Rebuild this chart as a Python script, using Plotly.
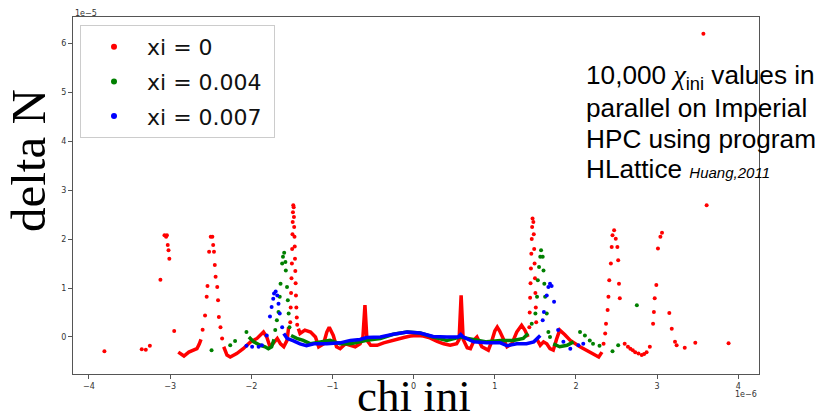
import plotly.graph_objects as go

# ---------------- data (chi_ini in units of 1e-6, delta N in units of 1e-5) ----------------
# xi = 0 (red): dense parts of the curve
red_line_x = [-2.90, -2.83, -2.77, -2.71, -2.67, -2.64, -2.62, None,
              -2.34, -2.30, -2.26, -2.18, -2.10, -2.01, -1.93, -1.85, -1.81, -1.77, -1.73, -1.68, -1.64, -1.60, -1.56, -1.54, None,
              -1.42, -1.40, -1.34, -1.27, -1.21, -1.17, -1.11, -1.07, -1.04, -0.99, -0.95, -0.905, -0.84, -0.78, -0.72, -0.66,
              -0.625, -0.60, -0.575, -0.53, -0.45, -0.37, -0.29, -0.21, -0.12, -0.04, 0.04, 0.12, 0.20, 0.29, 0.37, 0.45, 0.53,
              0.56, 0.585, 0.61, 0.66, 0.70, 0.75, 0.78, 0.81, 0.84, 0.92, 0.96, 1.00, 1.03, 1.06, 1.09, 1.15, 1.21, 1.27,
              1.33, 1.37, 1.41, None,
              1.52, 1.56, 1.60, 1.64, 1.68, 1.72, 1.76, 1.80, 1.86, 1.93, 2.05, 2.17, 2.28, 2.32]
red_line_y = [-0.31, -0.39, -0.31, -0.27, -0.24, -0.14, -0.05, None,
              -0.20, -0.37, -0.41, -0.34, -0.24, -0.10, -0.03, 0.10, 0.00, -0.20, -0.13, -0.03, -0.14, -0.20, -0.07, 0.20, None,
              0.17, 0.07, 0.14, 0.10, 0.00, -0.20, -0.14, 0.10, 0.20, 0.03, -0.20, -0.24, -0.14, -0.17, -0.20, -0.14,
              0.00, 0.65, -0.07, -0.17, -0.17, -0.12, -0.08, -0.04, -0.01, 0.02, 0.03, 0.02, -0.02, -0.09, -0.14, -0.17, -0.14,
              -0.05, 0.85, -0.05, -0.22, -0.24, -0.05, 0.00, -0.10, -0.20, -0.27, -0.10, 0.12, 0.20, 0.12, 0.00, -0.20, -0.14, 0.10,
              0.24, 0.14, 0.00, None,
              -0.05, -0.17, -0.10, -0.14, -0.24, -0.27, -0.05, 0.14, 0.05, -0.07, -0.20, -0.31, -0.41, -0.31]
# xi = 0 (red): isolated points
red_pts_x = [-3.81, -3.35, -3.30, -3.25, -3.12, -3.07, -3.05, -3.04, -3.03, -3.02, -3.01, -2.95,
             -2.60, -2.57, -2.55, -2.54, -2.52, -2.50, -2.48, -2.47, -2.46, -2.45, -2.44, -2.42, -2.41, -2.40, -2.38, -2.36,
             -1.52, -1.515, -1.51, -1.505, -1.50, -1.497, -1.493, -1.49, -1.487, -1.483, -1.478, -1.475, -1.472, -1.468,
             -1.465, -1.462, -1.458, -1.454, -1.45, -1.445, -1.44, -1.435,
             1.425, 1.43, 1.435, 1.44, 1.445, 1.45, 1.455, 1.46, 1.465, 1.475, 1.48, 1.485, 1.49, 1.495, 1.50, 1.505, 1.51,
             2.34, 2.36, 2.37, 2.39, 2.40, 2.41, 2.43, 2.44, 2.45, 2.47, 2.49, 2.51, 2.52, 2.53, 2.54,
             2.60, 2.64, 2.67, 2.70, 2.73, 2.77, 2.81, 2.84, 2.87, 2.91,
             2.95, 2.96, 2.97, 2.99, 3.01, 3.04, 3.06, 3.15, 3.18, 3.22, 3.24, 3.34, 3.47, 3.57, 3.61, 3.88]
red_pts_y = [-0.29, -0.25, -0.26, -0.18, 1.17, 2.08, 2.05, 2.08, 1.88, 1.77, 1.60, 0.12,
             0.15, 0.44, 0.82, 1.04, 1.74, 2.05, 2.05, 1.88, 1.74, 1.47, 1.23, 1.02, 0.75, 0.41, 0.20, -0.03,
             0.30, 0.60, 0.90, 1.20, 1.50, 1.80, 2.10, 2.35, 2.55, 2.69, 2.65, 2.45, 2.25, 2.05,
             1.85, 1.60, 1.35, 1.10, 0.85, 0.60, 0.40, 0.25,
             0.20, 0.50, 0.80, 1.10, 1.40, 1.70, 2.00, 2.25, 2.42, 2.35, 2.10, 1.80, 1.50, 1.20, 0.90, 0.60, 0.30,
             -0.14, 0.07, 0.27, 0.55, 0.82, 1.16, 1.50, 1.84, 2.08, 2.18, 2.01, 1.84, 1.57, 1.09, 0.79,
             -0.14, -0.20, -0.24, -0.27, -0.31, -0.34, -0.37, -0.35, -0.31, -0.20,
             0.27, 0.51, 0.79, 1.06, 1.81, 2.05, 2.13, 0.49, 0.17, -0.10, -0.17, -0.22, -0.12, 6.20, 2.69, -0.13]

# xi = 0.004 (green)
green_line_x = [-2.03, -1.97, -1.89, -1.83, -1.79, -1.75, -1.72, None,
                -1.51, -1.44, -1.36, -1.27, -1.15, -1.03, -0.905, -0.78, -0.66, -0.58, -0.41, -0.25, -0.08, 0.08, 0.24,
                0.41, 0.57, 0.74, 0.90, 1.07, 1.23, 1.35, 1.41, None,
                1.72, 1.80, 1.89, 1.97]
green_line_y = [0.00, -0.10, -0.17, -0.20, -0.24, -0.20, -0.05, None,
                0.03, -0.03, -0.07, -0.14, -0.10, -0.07, -0.14, -0.14, -0.10, -0.07, -0.03, 0.055, 0.10, 0.08, 0.00,
                -0.07, 0.00, -0.05, -0.10, -0.07, -0.07, -0.03, 0.07, None,
                -0.14, -0.20, -0.17, -0.10]
green_pts_x = [-2.49, -2.26, -2.20, -2.06,
               -1.705, -1.685, -1.665, -1.65, -1.64, -1.62, -1.61, -1.595, -1.58, -1.575, -1.56, -1.55, -1.54, -1.53,
               1.455, 1.50, 1.52, 1.53, 1.545, 1.56, 1.57, 1.59, 1.60, 1.61, 1.62, 1.64, 1.66, 1.68,
               2.05, 2.11, 2.17, 2.21, 2.29, 2.45, 2.52, 2.75]
green_pts_y = [-0.27, -0.17, -0.08, 0.10,
               0.14, 0.34, 0.51, 0.82, 1.09, 1.50, 1.64, 1.72, 1.53, 1.36, 1.02, 0.75, 0.48, 0.20,
               0.27, 0.48, 0.82, 1.16, 1.43, 1.64, 1.77, 1.64, 1.36, 1.09, 0.82, 0.48, 0.10, 0.00,
               0.10, 0.03, -0.07, -0.14, -0.18, -0.29, -0.17, 0.65]

# xi = 0.007 (blue)
blue_line_x = [-1.60, -1.56, -1.48, -1.40, -1.32, -1.23, -1.07, -0.905, -0.78, -0.66, -0.58, -0.41, -0.25, -0.08,
               0.08, 0.24, 0.41, 0.55, 0.58, 0.61, 0.74, 0.90, 1.07, 1.15, 1.27, 1.39, 1.48, 1.56]
blue_line_y = [0.07, -0.03, -0.08, -0.14, -0.18, -0.14, -0.14, -0.12, -0.07, -0.05, -0.01, 0.00, 0.055, 0.10,
               0.08, 0.01, 0.00, 0.00, 0.05, 0.00, -0.10, -0.12, -0.12, -0.18, -0.14, -0.14, -0.10, 0.03]
blue_pts_x = [-2.06, -1.99, -1.91, -1.87, -1.81, -1.77, -1.75, -1.73, -1.72, -1.70, -1.68, -1.665, -1.65, -1.62,
              1.59, 1.605, 1.64, 1.66, 1.68, 1.70, 1.73, 1.78, 1.845, 1.93, 2.03, 2.09]
blue_pts_y = [-0.18, -0.20, -0.20, -0.17, 0.03, 0.42, 0.61, 0.78, 0.89, 0.93, 0.85, 0.68, 0.48, 0.20,
              0.34, 0.51, 0.85, 1.02, 1.09, 1.04, 0.72, 0.14, -0.10, -0.24, -0.17, -0.14]

series_names = ["xi = 0", "xi = 0.004", "xi = 0.007"]
series_colors = ["#ff0000", "#008000", "#0000ff"]

x_ticks = [-4, -3, -2, -1, 0, 1, 2, 3, 4]
y_ticks = [0, 1, 2, 3, 4, 5, 6]

# ---------------- figure ----------------
W, H = 823, 416
L, R, T, B = 73, 64, 17, 42
PW, PH = W - L - R, H - T - B


def px(xp):
    return (xp - L) / PW


def py(yp):
    return (H - B - yp) / PH


fig = go.Figure()
lines = [(red_line_x, red_line_y), (green_line_x, green_line_y), (blue_line_x, blue_line_y)]
pts = [(red_pts_x, red_pts_y), (green_pts_x, green_pts_y), (blue_pts_x, blue_pts_y)]
for (lx, ly), (sx, sy), name, col in zip(lines, pts, series_names, series_colors):
    fig.add_trace(go.Scatter(x=lx, y=ly, mode="lines", line=dict(color=col, width=3.5),
                             showlegend=False, hoverinfo="skip", connectgaps=False))
    fig.add_trace(go.Scatter(x=sx, y=sy, mode="markers", marker=dict(color=col, size=4),
                             showlegend=False, name=name))
# legend entries
for i, (name, col) in enumerate(zip(series_names, series_colors)):
    fig.add_trace(go.Scatter(x=[None], y=[None], mode="markers", name=name + "\u00a0",
                             legendgroup="g%d" % i,
                             marker=dict(color=col, size=6)))

axis_common = dict(showline=True, mirror=True, linecolor="#555555", linewidth=1,
                   ticks="outside", ticklen=4, tickcolor="#555555", showgrid=False, zeroline=False,
                   tickfont=dict(family="DejaVu Sans", size=8, color="#333333"))
fig.update_xaxes(range=[-4.197, 4.255], tickvals=x_ticks, **axis_common)
fig.update_yaxes(range=[-0.757, 6.54], tickvals=y_ticks, **axis_common)

fig.update_layout(
    width=W, height=H,
    margin=dict(l=L, r=R, t=T, b=B),
    plot_bgcolor="white", paper_bgcolor="white",
    legend=dict(x=px(80), y=py(25), xanchor="left", yanchor="top",
                bgcolor="rgba(255,255,255,0.85)", bordercolor="#cccccc", borderwidth=1,
                font=dict(family="DejaVu Sans", size=22, color="#111111"), itemwidth=56,
                traceorder="grouped", tracegroupgap=3),
)

ann = []
# offset labels
ann.append(dict(x=px(73), y=py(13), xref="paper", yref="paper", text="1e−5", showarrow=False,
                xanchor="left", yanchor="middle", font=dict(family="DejaVu Sans", size=8, color="#333333")))
ann.append(dict(x=px(759), y=py(394), xref="paper", yref="paper", text="1e−6", showarrow=False,
                xanchor="right", yanchor="middle", font=dict(family="DejaVu Sans", size=8, color="#333333")))
# axis titles
ann.append(dict(x=px(28), y=py(161), xref="paper", yref="paper", text="delta N", showarrow=False,
                textangle=-90, xanchor="center", yanchor="middle",
                font=dict(family="Liberation Serif", size=49, color="black")))
ann.append(dict(x=px(414), y=py(396), xref="paper", yref="paper", text="chi ini", showarrow=False,
                xanchor="center", yanchor="middle",
                font=dict(family="Liberation Serif", size=45, color="black")))
# description text
desc_lines = [
    "10,000 <span style='font-family:Liberation Serif;font-size:28px'><i>χ</i></span><sub>ini</sub> values in",
    "parallel on Imperial",
    "HPC using program",
    "HLattice <span style='font-size:15px'><i>Huang,2011</i></span>",
]
desc_base = [86, 117, 148, 178]
for txt, yb in zip(desc_lines, desc_base):
    ann.append(dict(x=px(584), y=py(yb - 9), xref="paper", yref="paper", text=txt, showarrow=False,
                    xanchor="left", yanchor="middle",
                    font=dict(family="Liberation Sans", size=26.2, color="black")))
fig.update_layout(annotations=ann)

fig.write_html("out.html", post_script="document.body.style.margin='0';",
               config={"displayModeBar": False})
